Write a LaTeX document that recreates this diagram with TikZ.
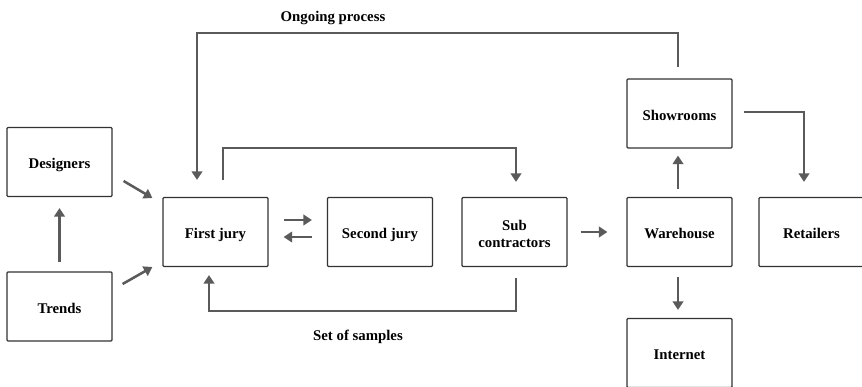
\documentclass[tikz,border=0pt]{standalone}
\usepackage{fontspec}
\setmainfont{Liberation Serif}
\usetikzlibrary{arrows.meta,calc}
\definecolor{boxline}{HTML}{333333}
\definecolor{arrowgray}{HTML}{5A5A5A}
\tikzset{
  box/.style={draw=boxline, line width=1.2pt, rounded corners=1pt, fill=white,
    minimum width=105pt, minimum height=69pt, inner sep=2pt, align=center,
    text height=14.5pt, text depth=1pt,
    font=\fontsize{14.8}{17.5}\selectfont\bfseries},
  twoline/.style={text height=33pt, text depth=1pt},
  arr/.style={draw=arrowgray, line width=2.5pt,
    -{Triangle[width=10.5pt,length=8.5pt]}},
  lbl/.style={font=\fontsize{14.8}{17}\selectfont\bfseries}
}
\begin{document}
\begin{tikzpicture}[x=1pt,y=-1pt]
  \useasboundingbox (0,0) rectangle (862,387);
  \clip (0,0) rectangle (862,387);

  % process boxes
  \node[box] (designers) at (59.5,162)   {Designers};
  \node[box] (trends)    at (59.5,306.5) {Trends};
  \node[box] (first)     at (215.5,232)  {First jury};
  \node[box] (second)    at (380,232)    {Second jury};
  \node[box, twoline] (sub) at (514.5,232) {Sub\\contractors};
  \node[box] (show)      at (679.5,113.5){Showrooms};
  \node[box] (ware)      at (679.5,232)  {Warehouse};
  \node[box] (retail)    at (811.5,232)  {Retailers};
  \node[box] (internet)  at (679.5,353)  {Internet};

  % labels
  \node[lbl] (ongoing) at (333,18)  {Ongoing process};
  \node[lbl] (samples) at (358,337) {Set of samples};

  % inputs to the first jury
  \draw[arr, shorten <=9pt, shorten >=11pt] (trends.north) -- (designers.south);
  \draw[arr] ($(designers.east)+(11,19)$) -- ($(first.west)+(-10,-34)$);
  \draw[arr] ($(trends.east)+(10,-22.5)$) -- ($(first.west)+(-10,35)$);

  % ongoing process loop from the showrooms back to the first jury
  \draw[arr] ($(show.north)+(-1.5,-11)$) |- (197,33) -- ($(first.north)+(-18.5,-17)$);

  % first jury to sub contractors
  \draw[arr] ($(first.north)+(7.5,-17)$) |- (516,148) -- ($(sub.north)+(1.5,-15)$);

  % set of samples back to the first jury
  \draw[arr] ($(sub.south)+(1.5,11)$) |- (209,311) -- ($(first.south)+(-6.5,8)$);

  % exchange between the two juries
  \draw[arr] ($(first.east)+(15,-12)$) -- ($(second.west)+(-15,-12)$);
  \draw[arr] ($(second.west)+(-15,5)$) -- ($(first.east)+(15,5)$);

  % distribution
  \draw[arr, shorten <=13pt, shorten >=19pt] (sub.east) -- (ware.west);
  \draw[arr, shorten <=8pt, shorten >=7pt] ($(ware.north)+(-1.5,0)$) -- ($(show.south)+(-1.5,0)$);
  \draw[arr] ($(show.east)+(11,-1.5)$) -| ($(retail.north)+(-7.5,-15)$);
  \draw[arr, shorten <=10pt, shorten >=8pt] ($(ware.south)+(-1.5,0)$) -- ($(internet.north)+(-1.5,0)$);
\end{tikzpicture}
\end{document}
